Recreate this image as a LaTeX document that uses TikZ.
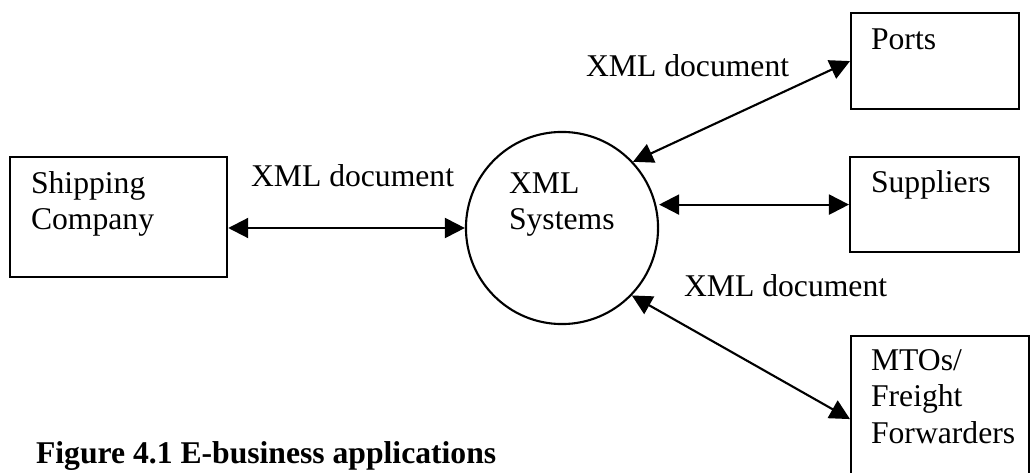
\documentclass[tikz,border=0pt]{standalone}
\usepackage{fontspec}
\setmainfont{Liberation Serif}
\usetikzlibrary{arrows.meta,positioning}

\begin{document}
\begin{tikzpicture}[x=0.01cm, y=-0.01cm, line width=0.6pt,
	box/.style={draw, rectangle, anchor=north west, inner sep=0pt},
	hub/.style={draw, circle, inner sep=0pt, minimum size=1.92cm},
	link/.style={{Triangle[length=2mm,width=2mm]}-{Triangle[length=2mm,width=2mm]}},
	txt/.style={font=\fontsize{9}{10.3}\selectfont, inner sep=0pt, align=left, anchor=base west},
	caption/.style={font=\fontsize{9}{10.3}\selectfont\bfseries, inner sep=0pt, anchor=base west}]

% frame %{{{2

	\useasboundingbox (0,0) rectangle (1030,473);

% boxes %{{{2

	\node[box, minimum width=2.17cm, minimum height=1.20cm] (ship) at (9,156) {};
	\node[box, minimum width=1.68cm, minimum height=0.96cm] (ports) at (850,12) {};
	\node[box, minimum width=1.69cm, minimum height=0.95cm] (supp) at (849,156) {};
	\node[box, minimum width=1.78cm, minimum height=1.66cm] (mto) at (850,335) {};

% circle %{{{2

	\node[hub] (xml) at (562,228) {};

% arrows %{{{2

	\draw[link] (ship.east |- xml.west) -- (xml.west);
	\draw[link] (xml.43) -- (ports.west);
	\draw[link] (supp.west -| xml.east) -- (supp.west);
	\draw[link] (xml.-44) -- (mto.west);

% texts (base = last line) %{{{2

	\node[txt] (shiptxt) at (30,230) {Shipping\\Company};
	\node[txt] (xmltxt) at (508,230) {XML\\Systems};
	\node[txt] (portstxt) at (870,50) {Ports};
	\node[txt] (supptxt) at (870,193) {Suppliers};
	\node[txt] (mtotxt) at (870,443) {MTOs/\\Freight\\Forwarders};

% arrow labels %{{{2

	\node[txt] (doca) at (250,187) {XML document};
	\node[txt] (docb) at (585,77) {XML document};
	\node[txt] (docc) at (683,297) {XML document};

% caption %{{{2

	\node[caption] (fig) at (35,463) {Figure 4.1 E-business applications};

\end{tikzpicture}
\end{document}
